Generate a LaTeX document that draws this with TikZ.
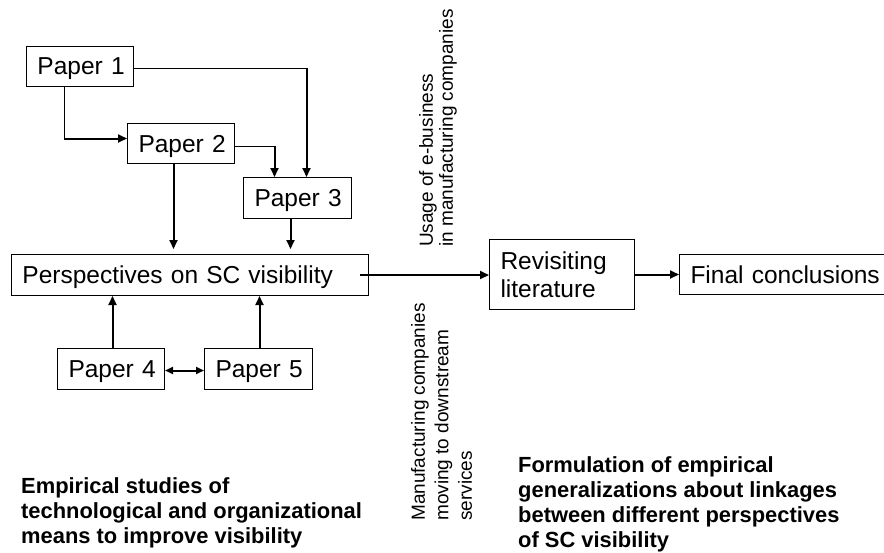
\documentclass[tikz,border=0pt]{standalone}
\usepackage{fontspec}
\setmainfont{Liberation Sans}
\usetikzlibrary{arrows.meta,calc}
\begin{document}
\begin{tikzpicture}[x=1pt,y=-1pt,
  box/.style={draw=black, line width=1pt, anchor=north west, inner xsep=11pt, inner ysep=0pt,
    align=left, text depth=0pt, font=\fontsize{24.5}{28}\selectfont},
  tip/.style={-{Triangle[length=9pt,width=8pt]}},
  dtip/.style={{Triangle[length=8pt,width=7pt]}-{Triangle[length=8pt,width=7pt]}},
  thickline/.style={line width=2pt},
  thinline/.style={line width=1.2pt},
  lbl/.style={rotate=90, anchor=north west, inner sep=0pt, align=left},
  boldlbl/.style={anchor=north west, inner sep=0pt, align=left, font=\fontsize{21.9}{25}\selectfont\bfseries}]
\useasboundingbox (0,0) rectangle (884,552);
\fill[white] (0,0) rectangle (884,552);

% boxes
\node[box, minimum height=40pt, text width=85pt] (p1) at (26,46) {\mbox{Paper 1}};
\node[box, minimum height=40pt, text width=85pt] (p2) at (127,123) {\mbox{Paper 2}};
\node[box, minimum height=41pt, text width=86pt] (p3) at (243,177) {\mbox{Paper 3}};
\node[box, minimum height=41pt, text width=335pt] (persp) at (11,254) {\mbox{Perspectives on SC visibility}};
\node[box, minimum height=41pt, text width=85pt] (p4) at (57,348) {\mbox{Paper 4}};
\node[box, minimum height=41pt, text width=86pt] (p5) at (204,348) {\mbox{Paper 5}};
\node[box, minimum height=70pt, text width=123pt, text depth=28pt] (rev) at (489,239) {Revisiting\\literature};
\node[box, minimum height=40pt, text width=218pt] (fin) at (679,254) {\mbox{Final conclusions}};

% connectors
\draw[thinline] ([xshift=-15.5pt]p1.south) -- ([xshift=-15.5pt,yshift=5pt]p1.south |- p2.west);
\draw[thickline,tip] ([xshift=-16.5pt,yshift=5pt]p1.south |- p2.west) -- ([yshift=5pt]p2.west);

\draw[thinline] ([yshift=-2pt]p1.east) -- ([xshift=9pt,yshift=-2pt]p3.north |- p1.east);
\draw[thickline,tip] ([xshift=9pt,yshift=-1pt]p3.north |- p1.east) -- ([xshift=9pt]p3.north);

\draw[thinline] ([yshift=-3pt]p2.east) -- ([xshift=-23pt,yshift=-3pt]p3.north |- p2.east);
\draw[thickline,tip] ([xshift=-23pt,yshift=-2pt]p3.north |- p2.east) -- ([xshift=-23pt]p3.north);

\draw[thickline,tip,shorten >=5pt] ([xshift=-7.5pt]p2.south) -- ([xshift=-7.5pt]p2.south |- persp.north);
\draw[thickline,tip,shorten >=5pt] ([xshift=-7pt]p3.south) -- ([xshift=-7pt]p3.south |- persp.north);

\draw[thickline,tip] ([xshift=1.5pt]p4.north) -- ([xshift=1.5pt]p4.north |- persp.south);
\draw[thickline,tip] ([xshift=1pt]p5.north) -- ([xshift=1pt]p5.north |- persp.south);

\draw[thickline,dtip] ([yshift=-1.5pt]p4.east) -- ([yshift=-1.5pt]p5.west);

\draw[thickline,tip] ([xshift=-9pt]persp.east) -- (persp.east -| rev.west);
\draw[thickline,tip] (rev.east) -- (rev.east -| fin.west);

% labels
\node[lbl, font=\fontsize{19}{20}\selectfont] (usage) at (419,247) {Usage of e-business\\in manufacturing companies};
\node[lbl, font=\fontsize{19}{23.5}\selectfont] (manu) at (411,521) {Manufacturing companies\\moving to downstream\\services};
\node[boldlbl] (emp) at (21,477) {Empirical studies of\\technological and organizational\\means to improve visibility};
\node[boldlbl] (form) at (518,456) {Formulation of empirical\\generalizations about linkages\\between different perspectives\\of SC visibility};
\end{tikzpicture}
\end{document}
